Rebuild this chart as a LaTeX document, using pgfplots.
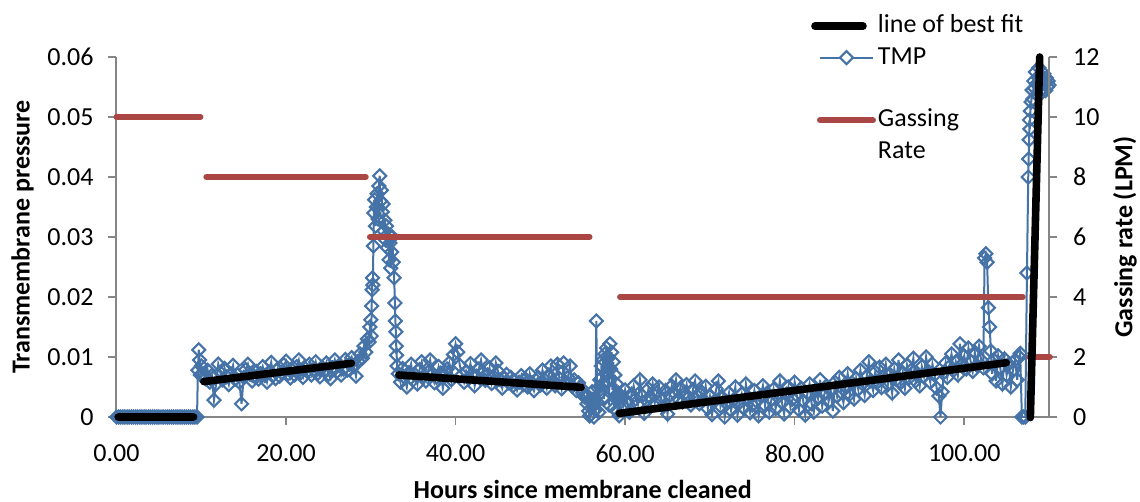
\documentclass[border=0pt]{standalone}
\usepackage{pgfplots}
\pgfplotsset{compat=1.18}
\usepackage{pgfplotstable}
\usepackage{fontspec}
\setmainfont{Carlito}

\definecolor{tmpblue}{HTML}{4572A7}
\definecolor{gasred}{HTML}{AA4643}
\definecolor{axisgray}{HTML}{868686}

% Transmembrane pressure readings (hours, TMP)
\pgfplotstableread[row sep=\\]{
x y\\
0 0\\ 0.25 0\\ 0.5 0\\ 0.75 0\\ 1 0\\ 1.25 0\\ 1.5 0\\ 1.75 0\\ 2 0\\ 2.25 0\\
2.5 0\\ 2.75 0\\ 3 0\\ 3.25 0\\ 3.5 0\\ 3.75 0\\ 4 0\\ 4.25 0\\ 4.5 0\\ 4.75 0\\
5 0\\ 5.25 0\\ 5.5 0\\ 5.75 0\\ 6 0\\ 6.25 0\\ 6.5 0\\ 6.75 0\\ 7 0\\ 7.25 0\\
7.5 0\\ 7.75 0\\ 8 0\\ 8.25 0\\ 8.5 0\\ 8.75 0\\ 9 0\\ 9.25 0\\ 9.5 0\\
9.6 0.0078\\ 9.7 0.0112\\ 9.8 0.0095\\ 9.9 0.0070\\
10.00 0.0085\\ 10.25 0.0072\\ 10.50 0.0064\\ 10.75 0.0078\\ 11.00 0.0058\\ 11.25 0.0069\\
11.50 0.0028\\ 11.75 0.0055\\ 12.00 0.0088\\ 12.25 0.0074\\ 12.50 0.0062\\ 12.75 0.0081\\
13.00 0.0067\\ 13.25 0.0054\\ 13.50 0.0072\\ 13.75 0.0086\\ 14.00 0.0063\\ 14.25 0.0070\\
14.50 0.0058\\ 14.75 0.0022\\ 15.00 0.0066\\ 15.25 0.0079\\ 15.50 0.0088\\ 15.75 0.0071\\
16.00 0.0060\\ 16.25 0.0068\\ 16.50 0.0076\\ 16.75 0.0063\\ 17.00 0.0072\\ 17.25 0.0084\\
17.50 0.0069\\ 17.75 0.0058\\ 18.00 0.0075\\ 18.25 0.0091\\ 18.50 0.0070\\ 18.75 0.0064\\
19.00 0.0079\\ 19.25 0.0068\\ 19.50 0.0074\\ 19.75 0.0087\\ 20.00 0.0093\\ 20.25 0.0072\\
20.50 0.0065\\ 20.75 0.0078\\ 21.00 0.0070\\ 21.25 0.0084\\ 21.50 0.0095\\ 21.75 0.0074\\
22.00 0.0066\\ 22.25 0.0081\\ 22.50 0.0076\\ 22.75 0.0088\\ 23.00 0.0070\\ 23.25 0.0079\\
23.50 0.0092\\ 23.75 0.0073\\ 24.00 0.0067\\ 24.25 0.0083\\ 24.50 0.0077\\ 24.75 0.0090\\
25.00 0.0071\\ 25.25 0.0064\\ 25.50 0.0082\\ 25.75 0.0095\\ 26.00 0.0076\\ 26.25 0.0086\\
26.50 0.0070\\ 26.75 0.0080\\ 27.00 0.0096\\ 27.25 0.0078\\ 27.50 0.0088\\ 27.75 0.0099\\
28.00 0.0084\\ 28.25 0.0068\\ 28.50 0.0093\\ 28.75 0.0105\\ 29.00 0.0098\\ 29.20 0.0118\\
29.40 0.0108\\ 29.60 0.0130\\ 29.80 0.0125\\ 29.90 0.0150\\ 30.00 0.0162\\ 30.05 0.0135\\
30.10 0.0185\\ 30.15 0.0212\\ 30.20 0.0232\\ 30.25 0.0220\\ 30.30 0.0285\\ 30.35 0.0340\\
30.45 0.0362\\ 30.55 0.0318\\ 30.65 0.0350\\ 30.75 0.0372\\ 30.85 0.0330\\ 30.95 0.0385\\
31.05 0.0402\\ 31.15 0.0360\\ 31.25 0.0378\\ 31.35 0.0342\\ 31.45 0.0355\\ 31.55 0.0310\\
31.65 0.0328\\ 31.75 0.0295\\ 31.85 0.0318\\ 31.95 0.0282\\ 32.05 0.0305\\ 32.15 0.0262\\
32.25 0.0290\\ 32.35 0.0248\\ 32.45 0.0275\\ 32.55 0.0300\\ 32.65 0.0258\\ 32.75 0.0232\\
32.85 0.0190\\ 32.90 0.0160\\ 32.95 0.0142\\ 33.00 0.0118\\ 33.05 0.0103\\ 33.10 0.0085\\
33.25 0.0072\\ 33.50 0.0058\\ 33.75 0.0081\\ 34.00 0.0066\\ 34.25 0.0050\\ 34.50 0.0074\\
34.75 0.0088\\ 35.00 0.0062\\ 35.25 0.0070\\ 35.50 0.0055\\ 35.75 0.0079\\ 36.00 0.0092\\
36.25 0.0068\\ 36.50 0.0060\\ 36.75 0.0075\\ 37.00 0.0095\\ 37.25 0.0071\\ 37.50 0.0057\\
37.75 0.0066\\ 38.00 0.0084\\ 38.25 0.0073\\ 38.50 0.0048\\ 38.75 0.0069\\ 39.00 0.0080\\
39.25 0.0090\\ 39.50 0.0062\\ 39.75 0.0104\\ 40.00 0.0122\\ 40.25 0.0108\\ 40.50 0.0086\\
40.75 0.0070\\ 41.00 0.0058\\ 41.25 0.0076\\ 41.50 0.0065\\ 41.75 0.0089\\ 42.00 0.0072\\
42.25 0.0052\\ 42.50 0.0068\\ 42.75 0.0080\\ 43.00 0.0095\\ 43.25 0.0074\\ 43.50 0.0061\\
43.75 0.0070\\ 44.00 0.0082\\ 44.25 0.0056\\ 44.50 0.0067\\ 44.75 0.0090\\ 45.00 0.0076\\
45.25 0.0062\\ 45.50 0.0048\\ 45.75 0.0064\\ 46.00 0.0071\\ 46.25 0.0057\\ 46.50 0.0066\\
46.75 0.0052\\ 47.00 0.0060\\ 47.25 0.0045\\ 47.50 0.0058\\ 47.75 0.0069\\ 48.00 0.0054\\
48.25 0.0063\\ 48.50 0.0050\\ 48.75 0.0072\\ 49.00 0.0057\\ 49.25 0.0044\\ 49.50 0.0061\\
49.75 0.0066\\ 50.00 0.0053\\ 50.25 0.0078\\ 50.50 0.0062\\ 50.75 0.0048\\ 51.00 0.0070\\
51.25 0.0085\\ 51.50 0.0060\\ 51.75 0.0052\\ 52.00 0.0088\\ 52.25 0.0064\\ 52.50 0.0047\\
52.75 0.0090\\ 53.00 0.0058\\ 53.25 0.0066\\ 53.50 0.0085\\ 53.75 0.0051\\ 54.00 0.0062\\
54.25 0.0044\\ 54.50 0.0057\\ 54.75 0.0049\\ 55.00 0.0040\\ 55.25 0.0033\\ 55.50 0.0022\\
55.60 0.0035\\ 55.70 0.0010\\ 55.80 0.0002\\ 55.90 0.0028\\ 56.00 0.0005\\ 56.10 0.0042\\
56.20 0.0018\\ 56.30 0.0000\\ 56.40 0.0030\\ 56.50 0.0012\\ 56.60 0.0160\\ 56.70 0.0025\\
56.80 0.0048\\ 56.90 0.0008\\ 57.00 0.0062\\ 57.10 0.0040\\ 57.20 0.0085\\ 57.30 0.0055\\
57.40 0.0095\\ 57.50 0.0030\\ 57.60 0.0105\\ 57.70 0.0072\\ 57.80 0.0115\\ 57.90 0.0060\\
58.00 0.0098\\ 58.10 0.0020\\ 58.20 0.0122\\ 58.30 0.0080\\ 58.40 0.0108\\ 58.50 0.0045\\
58.60 0.0092\\ 58.70 0.0015\\ 58.80 0.0070\\ 58.90 0.0035\\ 59.00 0.0055\\ 59.10 0.0008\\
59.20 0.0040\\ 59.30 0.0002\\ 59.40 0.0025\\
59.50 0.0032\\ 59.75 0.0018\\ 60.00 0.0045\\ 60.25 0.0026\\ 60.50 0.0008\\ 60.75 0.0038\\
61.00 0.0052\\ 61.25 0.0030\\ 61.50 0.0021\\ 61.75 0.0062\\ 62.00 0.0035\\ 62.25 0.0006\\
62.50 0.0028\\ 62.75 0.0047\\ 63.00 0.0033\\ 63.25 0.0055\\ 63.50 0.0024\\ 63.75 0.0040\\
64.00 0.0050\\ 64.25 0.0029\\ 64.50 0.0017\\ 64.75 0.0044\\ 65.00 0.0005\\ 65.25 0.0036\\
65.50 0.0052\\ 65.75 0.0041\\ 66.00 0.0062\\ 66.25 0.0030\\ 66.50 0.0048\\ 66.75 0.0025\\
67.00 0.0039\\ 67.25 0.0054\\ 67.50 0.0033\\ 67.75 0.0020\\ 68.00 0.0046\\ 68.25 0.0060\\
68.50 0.0035\\ 68.75 0.0022\\ 69.00 0.0042\\ 69.25 0.0028\\ 69.50 0.0051\\ 69.75 0.0014\\
70.00 0.0034\\ 70.25 0.0004\\ 70.50 0.0026\\ 70.75 0.0047\\ 71.00 0.0060\\ 71.25 0.0018\\
71.50 0.0032\\ 71.75 0.0000\\ 72.00 0.0022\\ 72.25 0.0040\\ 72.50 0.0011\\ 72.75 0.0028\\
73.00 0.0050\\ 73.25 0.0003\\ 73.50 0.0024\\ 73.75 0.0038\\ 74.00 0.0015\\ 74.25 0.0055\\
74.50 0.0030\\ 74.75 0.0007\\ 75.00 0.0020\\ 75.25 0.0044\\ 75.50 0.0026\\ 75.75 0.0002\\
76.00 0.0035\\ 76.25 0.0052\\ 76.50 0.0019\\ 76.75 0.0040\\ 77.00 0.0008\\ 77.25 0.0029\\
77.50 0.0046\\ 77.75 0.0014\\ 78.00 0.0033\\ 78.25 0.0060\\ 78.50 0.0024\\ 78.75 0.0005\\
79.00 0.0038\\ 79.25 0.0050\\ 79.50 0.0016\\ 79.75 0.0030\\ 80.00 0.0058\\
80.25 0.0036\\ 80.50 0.0012\\ 80.75 0.0048\\ 81.00 0.0027\\ 81.25 0.0003\\ 81.50 0.0040\\
81.75 0.0055\\ 82.00 0.0022\\ 82.25 0.0008\\ 82.50 0.0045\\ 82.75 0.0031\\ 83.00 0.0062\\
83.25 0.0018\\ 83.50 0.0038\\ 83.75 0.0052\\ 84.00 0.0026\\ 84.25 0.0044\\ 84.50 0.0010\\
84.75 0.0058\\ 85.00 0.0035\\ 85.25 0.0066\\ 85.50 0.0041\\ 85.75 0.0024\\ 86.00 0.0050\\
86.25 0.0072\\ 86.50 0.0038\\ 86.75 0.0057\\ 87.00 0.0030\\ 87.25 0.0064\\ 87.50 0.0046\\
87.75 0.0078\\ 88.00 0.0055\\ 88.25 0.0036\\ 88.50 0.0068\\ 88.75 0.0092\\ 89.00 0.0060\\
89.25 0.0044\\ 89.50 0.0075\\ 89.75 0.0058\\ 90.00 0.0083\\ 90.25 0.0049\\ 90.50 0.0066\\
90.75 0.0088\\ 91.00 0.0054\\ 91.25 0.0071\\ 91.50 0.0040\\ 91.75 0.0080\\ 92.00 0.0062\\
92.25 0.0095\\ 92.50 0.0057\\ 92.75 0.0074\\ 93.00 0.0048\\ 93.25 0.0086\\ 93.50 0.0065\\
93.75 0.0078\\ 94.00 0.0098\\ 94.25 0.0060\\ 94.50 0.0072\\ 94.75 0.0052\\ 95.00 0.0084\\
95.25 0.0068\\ 95.50 0.0100\\ 95.75 0.0076\\ 96.00 0.0058\\ 96.25 0.0088\\ 96.50 0.0070\\
96.75 0.0048\\ 97.00 0.0035\\ 97.20 0.0000\\ 97.40 0.0042\\ 97.60 0.0074\\ 97.80 0.0090\\
98.00 0.0066\\ 98.25 0.0084\\ 98.50 0.0105\\ 98.75 0.0078\\ 99.00 0.0092\\ 99.25 0.0070\\
99.50 0.0122\\ 99.75 0.0088\\ 100.00 0.0102\\ 100.25 0.0080\\ 100.50 0.0115\\ 100.75 0.0093\\
101.00 0.0076\\ 101.25 0.0108\\ 101.50 0.0086\\ 101.75 0.0118\\ 102.00 0.0095\\ 102.25 0.0082\\
102.40 0.0265\\ 102.55 0.0272\\ 102.70 0.0258\\ 102.85 0.0182\\ 103.00 0.0150\\ 103.15 0.0110\\
103.30 0.0072\\ 103.50 0.0095\\ 103.75 0.0060\\ 104.00 0.0102\\ 104.25 0.0082\\ 104.50 0.0055\\
104.75 0.0097\\ 105.00 0.0070\\ 105.25 0.0088\\ 105.50 0.0050\\ 105.75 0.0078\\ 106.00 0.0095\\
106.25 0.0062\\ 106.50 0.0100\\ 106.60 0.0106\\ 106.80 0.0000\\ 107.00 0.0000\\ 107.20 0.0000\\
107.40 0.0240\\ 107.55 0.0400\\ 107.60 0.0430\\ 107.65 0.0462\\ 107.70 0.0495\\ 107.75 0.0480\\
107.80 0.0510\\ 107.90 0.0525\\ 108.00 0.0545\\ 108.10 0.0530\\ 108.20 0.0560\\ 108.30 0.0548\\
108.40 0.0575\\ 108.50 0.0555\\ 108.60 0.0538\\ 108.70 0.0566\\ 108.80 0.0582\\ 108.90 0.0552\\
109.00 0.0570\\ 109.10 0.0540\\ 109.20 0.0562\\ 109.30 0.0548\\ 109.40 0.0572\\ 109.50 0.0556\\
109.60 0.0544\\ 109.70 0.0565\\ 109.80 0.0550\\ 109.90 0.0560\\ 110.00 0.0553\\
}\tmpdata

% Gassing rate steps (LPM); nan separates the steps
\pgfplotstableread[row sep=\\]{
x y\\
0 10\\ 9.9 10\\ 9.95 nan\\
10.6 8\\ 29.4 8\\ 29.5 nan\\
29.9 6\\ 55.8 6\\ 56 nan\\
59.4 4\\ 106.9 4\\ 107 nan\\
107.7 2\\ 110.1 2\\
}\gasdata

% Fitted trend segments (hours, TMP)
\pgfplotstableread[row sep=\\]{
x y\\
0.2 0\\ 9.1 0\\ 9.5 nan\\
10.3 0.0059\\ 27.7 0.00895\\ 30 nan\\
33.3 0.0070\\ 54.8 0.00495\\ 57 nan\\
59.3 0.0006\\ 104.96 0.00905\\ 106 nan\\
107.8 -0.0001\\ 108.9 0.06\\
}\fitdata

\pgfplotsset{
  base/.style={
    scale only axis, width=466.25pt, height=180pt,
    xmin=0, xmax=110, clip=false, unbounded coords=jump,
    tick align=outside, major tick length=4pt,
    tick style={axisgray, line width=0.75pt},
    axis line style={-, axisgray, line width=1pt},
    every tick label/.append style={font=\fontsize{13}{15}\selectfont, text=black},
    label style={font=\fontsize{13}{15}\selectfont\bfseries},
  },
  tmpstyle/.style={color=tmpblue, line width=1pt, mark=square,
    mark size=2.3pt, mark options={rotate=45, line width=1.05pt, solid}},
  tmpkey/.style={color=tmpblue, line width=1pt, mark=square*,
    mark size=2.3pt, mark options={rotate=45, fill=white, line width=1.05pt, solid}},
  gasstyle/.style={color=gasred, line width=3pt, line cap=round},
  fitlegend/.style={legend image code/.code={\draw[##1] (-2.5pt,0pt) -- (21.5pt,0pt);}},
  tmplegend/.style={legend image code/.code={\draw[mark repeat=2,mark phase=2,##1]
    plot coordinates {(0pt,0pt) (13.25pt,0pt) (26.5pt,0pt)};}},
  gaslegend/.style={legend image code/.code={\draw[##1] (0pt,0pt) -- (26.5pt,0pt);}},
}

\begin{document}
\begin{tikzpicture}
\begin{axis}[base, name=main,
  ymin=0, ymax=0.06,
  axis x line*=bottom, axis y line*=left,
  xtick={0,20,40,60,80,100},
  ytick={0,0.01,0.02,0.03,0.04,0.05,0.06},
  scaled y ticks=false,
  xticklabel={\pgfmathprintnumber[fixed,fixed zerofill,precision=2,assume math mode=true]{\tick}},
  yticklabel={\pgfmathprintnumber[fixed,precision=2,assume math mode=true]{\tick}},
  xticklabel style={yshift=-6.5pt},
  yticklabel style={xshift=-4pt},
  xlabel={Hours since membrane cleaned},
  xlabel style={yshift=-1.5pt},
  ylabel={Transmembrane pressure},
]
\addplot[tmpstyle] table {\tmpdata};
\end{axis}

\begin{axis}[base,
  ymin=0, ymax=12,
  axis y line*=right, axis x line=none,
  ytick={0,2,4,6,8,10,12},
  yticklabel={\pgfmathprintnumber[assume math mode=true]{\tick}},
  yticklabel style={xshift=4.5pt},
  ylabel={Gassing rate (LPM)},
]
\addplot[gasstyle] table {\gasdata};
\end{axis}

\begin{axis}[base,
  ymin=0, ymax=0.06, hide axis,
  legend cell align=left,
  legend style={draw=none, fill=none, inner sep=0pt,
    at={(axis description cs:0.7445,1.127)}, anchor=north west,
    row sep=1.2pt, column sep=0pt,
    font=\fontsize{13}{15}\selectfont,
    nodes={inner sep=1pt, text height=9.5pt, text depth=3pt}},
]
\addplot[black, line width=3.8pt, line cap=round, fitlegend] table {\fitdata};
\addlegendentry{line of best fit}
\addlegendimage{tmpkey, tmplegend}
\addlegendentry{TMP}
\addlegendimage{empty legend}
\addlegendentry{}
\addlegendimage{gasstyle, gaslegend}
\addlegendentry{Gassing}
\addlegendimage{empty legend}
\addlegendentry{Rate}
\end{axis}

\pgfresetboundingbox
\path[use as bounding box] ([shift={(-58.25pt,-42.5pt)}]main.south west)
  rectangle ([shift={(511.75pt,208.5pt)}]main.south west);
\end{tikzpicture}
\end{document}
